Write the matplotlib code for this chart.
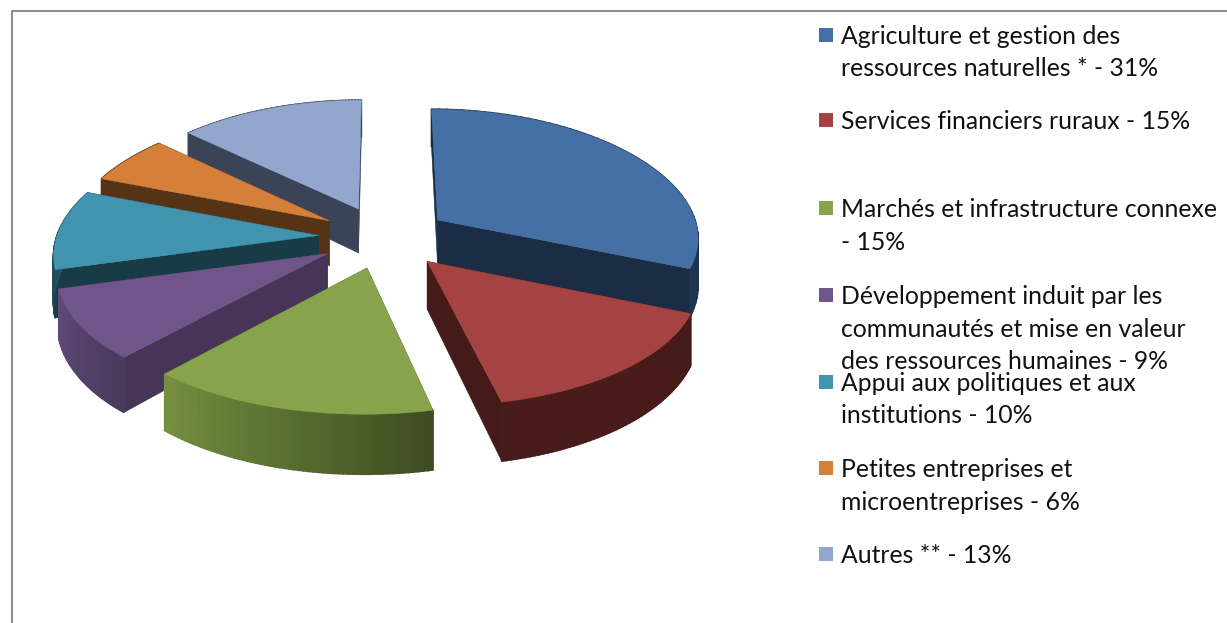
"""Camembert 3D eclate : repartition par secteur, avec legende a droite."""
import numpy as np
import matplotlib
matplotlib.use("Agg")
import matplotlib.pyplot as plt
from matplotlib.colors import to_rgb
from matplotlib.patches import Polygon, Rectangle

values = [31, 15, 15, 9, 10, 6, 13]
legend_lines = [
    ["Agriculture et gestion des", "ressources naturelles * - 31%"],
    ["Services financiers ruraux - 15%"],
    ["Marchés et infrastructure connexe", "- 15%"],
    ["Développement induit par les", "communautés et mise en valeur", "des ressources humaines - 9%"],
    ["Appui aux politiques et aux", "institutions - 10%"],
    ["Petites entreprises et", "microentreprises - 6%"],
    ["Autres ** - 13%"],
]
top_colors = ["#4570A6", "#A54342", "#87A44D", "#70558A", "#4094AD", "#D47F3A", "#92A6CE"]
wall_colors = ["#1A2D45", "#451B1A", "#43522A", "#463557", "#193B47", "#573316", "#3A4358"]
rim_start = ["#1A2D45", "#451B1A", "#3E4C22", "#4A3A5E", "#193B47", "#573316", "#3A4358"]
rim_end = ["#1E3450", "#481C1B", "#74903F", "#5E4A78", "#2A6A7C", "#573316", "#3A4358"]
legend_baselines = [[44, 76], [129], [217, 250], [304, 337, 369], [391, 423], [477, 510], [563]]

# projection (pixels de l'image)
CX, CY = 384, 237
AX, AY = 262, 125
PERSP_X = 0.13
PERSP_Y = 0.10
EXPLODE = 0.25
DEPTH = 46
# ordre de dessin, du fond vers l'avant
DRAW_ORDER = [6, 5, 4, 3, 0, 1, 2]


def project(x, y):
    sx = 1 / (1 + PERSP_X * y)
    sy = 1 / (1 + PERSP_Y * y)
    return CX + AX * x * sx, CY - AY * y * sy, DEPTH * sy * sy


def slice_shape(start, end):
    mid = (start + end) / 2
    ox, oy = EXPLODE * np.sin(mid), EXPLODE * np.cos(mid)
    th = np.linspace(start, end, 60)
    rim = np.array([project(ox + np.sin(t), oy + np.cos(t)) for t in th])
    apex = np.array(project(ox, oy))
    return apex, rim


def wall(apex, p):
    return [(apex[0], apex[1]), (p[0], p[1]), (p[0], p[1] + p[2]), (apex[0], apex[1] + apex[2])]


fig = plt.figure(figsize=(12.27, 6.23), dpi=100)
ax = fig.add_axes([0, 0, 1, 1])
ax.set_xlim(0, 1227)
ax.set_ylim(623, 0)
ax.axis("off")

# cadre du graphique
ax.plot([11.5, 11.5, 1227], [623, 11, 11], color="#8C8C8C", lw=1.5, solid_capstyle="butt")

fractions = np.array(values) / sum(values)
edges = np.concatenate([[0], np.cumsum(fractions)]) * 2 * np.pi

for i in DRAW_ORDER:
    apex, rim = slice_shape(edges[i], edges[i + 1])
    c_wall = wall_colors[i]
    for p in (rim[0], rim[-1]):
        ax.add_patch(Polygon(wall(apex, p), closed=True, fc=c_wall, ec=c_wall, lw=0.4))
    c0, c1 = np.array(to_rgb(rim_start[i])), np.array(to_rgb(rim_end[i]))
    for k in range(len(rim) - 1):
        a, b = rim[k], rim[k + 1]
        col = c0 + (c1 - c0) * k / (len(rim) - 2)
        quad = [(a[0], a[1]), (b[0], b[1]), (b[0], b[1] + b[2]), (a[0], a[1] + a[2])]
        ax.add_patch(Polygon(quad, closed=True, fc=col, ec=col, lw=1.2))
    top = [(apex[0], apex[1])] + [(p[0], p[1]) for p in rim]
    ax.add_patch(Polygon(top, closed=True, fc=top_colors[i], ec=top_colors[i], lw=0.3))

# legende
for i, lines in enumerate(legend_lines):
    base = legend_baselines[i]
    ax.add_patch(Rectangle((819, base[0] - 16), 14, 14, fc=top_colors[i], ec="none"))
    for line, y in zip(lines, base):
        ax.text(841, y, line, fontsize=17.8, family="Lato", color="#111111", va="baseline", ha="left")

fig.savefig("out.png", dpi=100)
plt.close(fig)
